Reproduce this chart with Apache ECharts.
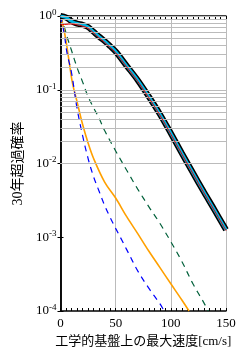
<!DOCTYPE html>
<html><head><meta charset="utf-8">
<script src="https://cdn.jsdelivr.net/npm/echarts@6/dist/echarts.min.js"></script>
<style>html,body{margin:0;padding:0;background:#fff}#c{width:247px;height:357px}</style>
</head><body><div id="c"></div>
<script>
// velocity [cm/s] and 30-year exceedance probability
const vTotal = [0, 5, 10, 15, 20, 25, 30, 35, 40, 45, 50, 60, 70, 80, 90, 100, 110, 120, 130, 140, 150];
const pTotal = [1.0, 0.955, 0.85, 0.79, 0.76, 0.71, 0.61, 0.525, 0.457, 0.39, 0.33, 0.211, 0.135, 0.081, 0.047, 0.0257, 0.0138, 0.0075, 0.0041, 0.00229, 0.00126];
const vRed = [0, 5, 10, 15, 20, 25, 30, 35, 40, 45, 50, 60, 70, 80, 90, 100, 110, 120, 130, 140, 150];
const pRed = [0.76, 0.77, 0.78, 0.76, 0.73, 0.68, 0.59, 0.505, 0.44, 0.375, 0.318, 0.204, 0.13, 0.078, 0.0455, 0.0249, 0.0134, 0.0073, 0.004, 0.00223, 0.00123];
const vGreen = [0, 3, 6, 10, 15, 20, 25, 30, 35, 40, 50, 60, 70, 80, 90, 100, 110, 120, 130, 134];
const pGreen = [1.0, 0.75, 0.52, 0.34, 0.20, 0.128, 0.081, 0.057, 0.041, 0.028, 0.0148, 0.0081, 0.0045, 0.0026, 0.00155, 0.00087, 0.00047, 0.000234, 0.000129, 0.0001];
const vOrange = [0, 2.5, 5, 8, 11, 15, 20, 25, 30, 40, 50, 60, 70, 80, 90, 100, 110, 116.5];
const pOrange = [1.0, 0.72, 0.46, 0.23, 0.12, 0.069, 0.034, 0.019, 0.0117, 0.0056, 0.0034, 0.0019, 0.00112, 0.00065, 0.00039, 0.000234, 0.000141, 0.0001];
const vBlue = [0, 3, 6, 10, 15, 20, 25, 30, 35, 40, 45, 50, 55, 60, 70, 80, 90, 94];
const pBlue = [1.0, 0.62, 0.31, 0.17, 0.056, 0.024, 0.0117, 0.0066, 0.0042, 0.0027, 0.00186, 0.00132, 0.00095, 0.00068, 0.00035, 0.000204, 0.000126, 0.0001];
const yMajorTicks = [1e-4, 1e-3, 1e-2, 1e-1, 1];
const yExponents = ['-4', '-3', '-2', '-1', '0'];
const xTicks = [0, 50, 100, 150];
const yTitle = '30年超過確率';
const xTitle = '工学的基盤上の最大速度[cm/s]';

const minorVals = [];
for (let d = -4; d < 0; d++) for (let k = 1; k <= 9; k++) minorVals.push(Number((k * Math.pow(10, d)).toPrecision(3)));
minorVals.push(1);

const zip = (a, b) => a.map((v, i) => [v, b[i]]);
const serif = '"Liberation Serif","Noto Sans CJK JP",serif';

const chart = echarts.init(document.getElementById('c'), null, {renderer: 'canvas'});
const yLabel = v => {
  const i = yMajorTicks.findIndex(t => Math.abs(Math.log10(t) - Math.log10(v)) < 1e-6);
  return i >= 0 ? '{b|10}{s|' + yExponents[i] + '}' : '';
};
const SM = 0.35;
const line = (v, p, z, style) => ({
  type: 'line', data: zip(v, p), showSymbol: false, smooth: SM, z: z, lineStyle: style
});
chart.setOption({
  animation: false,
  grid: {left: 60.5, right: 21, top: 16, bottom: 46},
  xAxis: [{
    type: 'value', min: 0, max: 150, interval: 50,
    name: xTitle, nameLocation: 'middle', nameGap: 23,
    nameTextStyle: {fontFamily: serif, fontSize: 13, color: '#000'},
    axisLine: {lineStyle: {color: '#000', width: 1.5}},
    axisTick: {show: true, inside: true, length: 3, lineStyle: {color: '#000'}},
    minorTick: {show: true, splitNumber: 10, length: 3, lineStyle: {color: '#000'}},
    axisLabel: {fontFamily: serif, fontSize: 13, color: '#000', margin: 6},
    splitLine: {show: true, lineStyle: {color: '#bbb', width: 1}}
  }, {
    type: 'value', min: 0, max: 150, interval: 50, position: 'top',
    axisLine: {lineStyle: {color: '#000', width: 1.5}},
    axisTick: {show: true, inside: true, length: 3, lineStyle: {color: '#000'}},
    minorTick: {show: true, splitNumber: 10, length: 3, lineStyle: {color: '#000'}},
    axisLabel: {show: false}, splitLine: {show: false}
  }],
  yAxis: [{
    type: 'log', min: 1e-4, max: 1, logBase: 10,
    name: yTitle, nameLocation: 'middle', nameGap: 34, nameRotate: 90,
    nameTextStyle: {fontFamily: serif, fontSize: 14, color: '#000'},
    axisLine: {lineStyle: {color: '#000', width: 1.5}},
    axisTick: {show: true, inside: true, length: 3, lineStyle: {color: '#000'}},
    axisLabel: {
      formatter: yLabel, margin: 4,
      rich: {
        b: {fontFamily: serif, fontSize: 13, color: '#000'},
        s: {fontFamily: serif, fontSize: 9, color: '#000', padding: [0, 0, 7, 0]}
      }
    },
    splitLine: {show: false}
  }, {
    type: 'log', min: 1e-4, max: 1, logBase: 10, position: 'right',
    axisLine: {lineStyle: {color: '#000', width: 1.5}},
    axisTick: {show: true, inside: true, length: 3, lineStyle: {color: '#000'}},
    axisLabel: {show: false}, splitLine: {show: false}
  }],
  series: [
    Object.assign(line(vTotal, pTotal, 3, {color: '#000', width: 6}), {
      markLine: {
        silent: true, symbol: 'none', label: {show: false}, animation: false,
        lineStyle: {color: '#bbb', width: 1, type: 'solid'},
        data: minorVals.map(v => ({yAxis: v}))
      }
    }),
    line(vTotal, pTotal, 4, {color: '#00b8e6', width: 3}),
    line(vRed, pRed, 5, {color: '#e00000', width: 1}),
    line(vGreen, pGreen, 2, {color: '#00603a', width: 1.2, type: [6, 5]}),
    line(vOrange, pOrange, 2, {color: '#ffa000', width: 1.6}),
    line(vBlue, pBlue, 2, {color: '#0000ff', width: 1.2, type: [6, 5]})
  ]
});
</script></body></html>
